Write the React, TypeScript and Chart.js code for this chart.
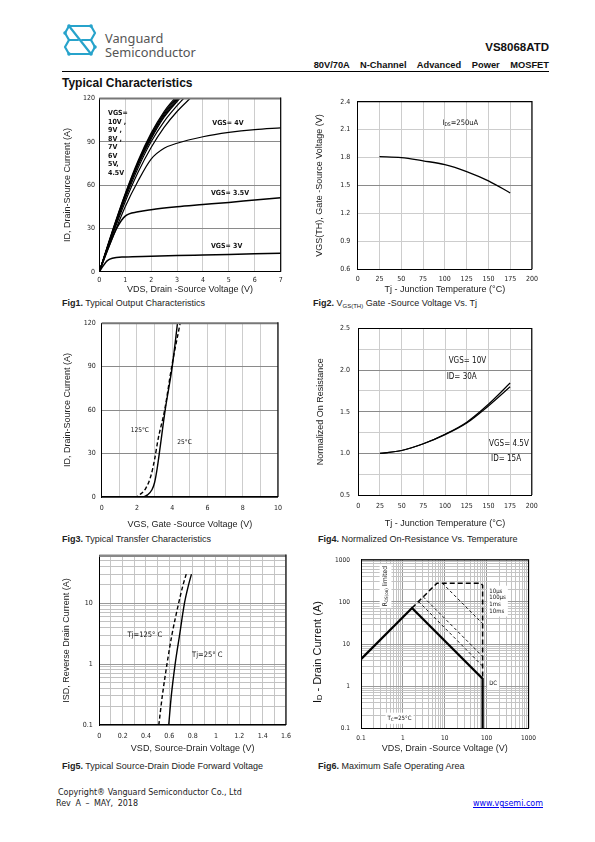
import React, { useEffect, useRef } from 'react';
import { Chart, registerables } from 'chart.js';

Chart.register(...registerables);

const SANS = "'Liberation Sans', Arial, Helvetica, sans-serif";
const NARROW = "'Liberation Sans Narrow', 'Arial Narrow', 'DejaVu Sans Condensed', sans-serif";
const VERDANA = "'DejaVu Sans', Verdana, sans-serif";

/* ================= Fig1: output characteristics ================= */
const fig1XTicks = [0, 1, 2, 3, 4, 5, 6, 7];
const fig1YTicks = [0, 30, 60, 90, 120];
const fig1Vgs10V = [[0, 0], [0.5, 28], [1, 54], [1.5, 77], [2, 96], [2.5, 111], [2.9, 120]];
const fig1Vgs9V = [[0, 0], [0.5, 27.5], [1, 53.5], [1.5, 76], [2, 95], [2.5, 110], [2.95, 120]];
const fig1Vgs8V = [[0, 0], [0.5, 27], [1, 53], [1.5, 75.5], [2, 94], [2.5, 109], [3.0, 120]];
const fig1Vgs7V = [[0, 0], [0.5, 27], [1, 52.5], [1.5, 75], [2, 93], [2.5, 108], [3.05, 120]];
const fig1Vgs6V = [[0, 0], [0.5, 26.5], [1, 52], [1.5, 74], [2, 92], [2.5, 107], [3.1, 120]];
const fig1Vgs5V = [[0, 0], [0.5, 26], [1, 50.5], [1.5, 72], [2, 90], [2.5, 104], [3, 115], [3.25, 120]];
const fig1Vgs45V = [[0, 0], [0.5, 25], [1, 48.5], [1.5, 69], [2, 86], [2.5, 100], [3, 111], [3.5, 120]];
const fig1Vgs4V = [[0, 0], [0.5, 23], [1, 45], [1.5, 63], [2, 78], [2.5, 85.5], [3, 89], [4, 93.5], [5, 96.5], [6, 98.5], [7, 99.7]];
const fig1Vgs35V = [[0, 0], [0.4, 19], [0.7, 31], [1, 38.5], [1.5, 41.5], [2, 43], [3, 45], [4, 46.5], [5, 48], [6, 49.7], [7, 51.3]];
const fig1Vgs3V = [[0, 0], [0.15, 4], [0.3, 7.5], [0.5, 9.3], [1, 10.2], [2, 10.7], [3, 11.2], [4, 11.6], [5, 12], [6, 12.4], [7, 12.8]];

/* ================= Fig2: threshold voltage ================= */
const fig2XTicks = [0, 25, 50, 75, 100, 125, 150, 175, 200];
const fig2YTicks = [0.6, 0.9, 1.2, 1.5, 1.8, 2.1, 2.4];
const fig2Tj = [25, 50, 75, 100, 125, 150, 175];
const fig2Vth = [1.81, 1.8, 1.765, 1.725, 1.65, 1.55, 1.42];

/* ================= Fig3: transfer characteristics ================= */
const fig3XTicks = [0, 1, 2, 3, 4, 5, 6, 7, 8, 9, 10];
const fig3XLabels = [0, 2, 4, 6, 8, 10];
const fig3YTicks = [0, 30, 60, 90, 120];
const fig3Tj25 = [[0, 0], [2.3, 0], [2.6, 1.5], [2.85, 5], [3.0, 10], [3.15, 20], [3.3, 33], [3.6, 60], [4.0, 90], [4.3, 120]];
const fig3Tj125 = [[0, 0], [1.9, 0], [2.2, 2], [2.5, 6], [2.8, 15], [3.0, 26], [3.2, 40], [3.57, 60], [3.97, 90], [4.45, 120]];

/* ================= Fig4: normalized on-resistance ================= */
const fig4XTicks = [0, 25, 50, 75, 100, 125, 150, 175, 200];
const fig4YTicks = [0.5, 0.75, 1, 1.25, 1.5, 1.75, 2, 2.25, 2.5];
const fig4YLabels = [0.5, 1, 1.5, 2, 2.5];
const fig4Tj = [25, 50, 75, 100, 125, 150, 175];
const fig4Vgs10V = [1.0, 1.035, 1.115, 1.23, 1.375, 1.59, 1.845];
const fig4Vgs45V = [1.0, 1.035, 1.115, 1.225, 1.365, 1.57, 1.8];

/* ================= Fig5: diode forward voltage ================= */
const fig5XTicks = [0, 0.1, 0.2, 0.3, 0.4, 0.5, 0.6, 0.7, 0.8, 0.9, 1.0, 1.1, 1.2, 1.3, 1.4, 1.5, 1.6];
const fig5XLabels = [0, 0.2, 0.4, 0.6, 0.8, 1.0, 1.2, 1.4, 1.6];
const fig5YTicks = [0.1, 0.2, 0.3, 0.4, 0.5, 0.6, 0.7, 0.8, 0.9, 1, 2, 3, 4, 5, 6, 7, 8, 9, 10, 20, 30, 40, 50, 60];
const fig5YLabels = [0.1, 1, 10];
const fig5Tj25 = [[0.595, 0.1], [0.617, 0.3], [0.65, 1], [0.688, 3], [0.73, 10], [0.765, 20], [0.79, 30]];
const fig5Tj125 = [[0.51, 0.1], [0.54, 0.3], [0.58, 1], [0.622, 3], [0.68, 10], [0.718, 20], [0.745, 30]];

/* ================= Fig6: safe operating area ================= */
const fig6Ticks = [0.1, 0.2, 0.3, 0.4, 0.5, 0.6, 0.7, 0.8, 0.9, 1, 2, 3, 4, 5, 6, 7, 8, 9, 10, 20, 30, 40, 50, 60, 70, 80, 90, 100, 200, 300, 400, 500, 600, 700, 800, 900, 1000];
const fig6Labels = [0.1, 1, 10, 100, 1000];
const fig6Dc = [[0.1, 4.4], [1.65, 72], [80, 1.5], [80, 0.1]];
const fig6Us10 = [[1.65, 72], [6.5, 280], [72, 280], [80, 250], [80, 1.5]];
const fig6Us100 = [[8.75, 280], [80, 30.6]];
const fig6Ms1 = [[3.05, 133], [80, 5.1]];
const fig6Ms10 = [[2.36, 103], [80, 3.0]];

/* ================= helpers ================= */
type Seg = { t: string; size?: number; dy?: number };
type Lbl = {
  x: number; y: number; lines: (string | Seg[])[]; size: number; lh?: number;
  bold?: boolean; family?: string; align?: 'left' | 'center'; rot?: number; bg?: string;
};

function fontStr(l: Lbl, s: Seg) {
  return `${l.bold ? 'bold ' : ''}${s.size || l.size}px ${l.family || NARROW}`;
}

function drawLabel(ctx: any, px: number, py: number, l: Lbl) {
  const lh = l.lh || l.size * 1.2;
  const lines: Seg[][] = l.lines.map((ln) => (typeof ln === 'string' ? [{ t: ln }] : ln));
  ctx.save();
  ctx.translate(px, py);
  if (l.rot) ctx.rotate(l.rot);
  ctx.textBaseline = 'middle';
  ctx.textAlign = 'left';
  const widths = lines.map((line) =>
    line.reduce((w, s) => {
      ctx.font = fontStr(l, s);
      return w + ctx.measureText(s.t).width;
    }, 0)
  );
  const maxW = Math.max(...widths);
  const x0 = l.align === 'center' ? -maxW / 2 : 0;
  if (l.bg) {
    ctx.fillStyle = l.bg;
    ctx.fillRect(x0 - 2, -lh / 2 - 2, maxW + 4, lines.length * lh + 4);
  }
  ctx.fillStyle = '#111';
  lines.forEach((line, i) => {
    let x = l.align === 'center' ? -widths[i] / 2 : 0;
    for (const s of line) {
      ctx.font = fontStr(l, s);
      ctx.fillText(s.t, x, i * lh + (s.dy || 0));
      x += ctx.measureText(s.t).width;
    }
  });
  ctx.restore();
}

type Box = { cx: number; cy: number; cw: number; ch: number; L: number; T: number; R: number; B: number };
type AxisSpec = {
  type?: string; min: number; max: number; ticks: number[]; labels: number[];
  fmt: (v: number) => string; grid: (v: number) => string; tickPad: number; tickSize?: number;
  title?: string; titlePad?: number; borderW?: number;
};
type Spec = {
  box: Box; datasets: any[]; x: AxisSpec; y: AxisSpec;
  frame: { top: string; topW: number; right: string; rightW: number };
  labels?: Lbl[]; extra?: (chart: any) => void;
};

function axis(a: AxisSpec, isX: boolean, fit: number) {
  return {
    type: a.type || 'linear',
    position: isX ? 'bottom' : 'left',
    min: a.min,
    max: a.max,
    afterBuildTicks: (s: any) => {
      s.ticks = a.ticks.map((v) => ({ value: v }));
    },
    afterFit: (s: any) => {
      if (isX) s.height = fit;
      else s.width = fit;
    },
    ticks: {
      autoSkip: false,
      maxRotation: 0,
      minRotation: 0,
      padding: a.tickPad,
      color: '#222',
      font: { family: NARROW, size: a.tickSize || 7 },
      callback: (v: any) => (a.labels.some((l) => Math.abs(l - v) < 1e-9) ? a.fmt(Number(v)) : ''),
    },
    grid: {
      drawTicks: false,
      lineWidth: 1,
      color: (c: any) => a.grid(c.tick ? c.tick.value : 0),
    },
    border: { display: true, color: '#000', width: a.borderW || 1 },
    title: a.title
      ? {
          display: true,
          text: a.title,
          color: '#222',
          font: { family: SANS, size: 9, lineHeight: 1.2 },
          padding: isX ? { top: 0, bottom: a.titlePad || 0 } : { top: a.titlePad || 0, bottom: 0 },
        }
      : { display: false },
  };
}

function buildConfig(spec: Spec) {
  const b = spec.box;
  const labels = spec.labels || [];
  const f = spec.frame;
  return {
    type: 'scatter',
    data: { datasets: spec.datasets },
    options: {
      animation: false,
      responsive: false,
      maintainAspectRatio: false,
      devicePixelRatio: 1,
      events: [],
      layout: { padding: { left: 0, top: b.T - b.cy, right: b.cx + b.cw - b.R, bottom: 0 } },
      plugins: { legend: { display: false }, tooltip: { enabled: false }, title: { display: false } },
      scales: {
        x: axis(spec.x, true, b.cy + b.ch - b.B),
        y: axis(spec.y, false, b.L - b.cx),
      },
    },
    plugins: [
      {
        id: 'labels',
        afterDatasetsDraw(chart: any) {
          const xs = chart.scales.x;
          const ys = chart.scales.y;
          for (const l of labels) drawLabel(chart.ctx, xs.getPixelForValue(l.x), ys.getPixelForValue(l.y), l);
        },
      },
      {
        id: 'frame',
        afterDraw(chart: any) {
          const { ctx, chartArea } = chart;
          const { left, right, top, bottom } = chartArea;
          ctx.save();
          ctx.strokeStyle = f.top;
          ctx.lineWidth = f.topW;
          ctx.beginPath();
          ctx.moveTo(left, top);
          ctx.lineTo(right, top);
          ctx.stroke();
          ctx.strokeStyle = f.right;
          ctx.lineWidth = f.rightW;
          ctx.beginPath();
          ctx.moveTo(right, top - f.topW / 2);
          ctx.lineTo(right, bottom);
          ctx.stroke();
          ctx.restore();
          if (spec.extra) spec.extra(chart);
        },
      },
    ],
  };
}

function curve(points: number[][], opts: any = {}) {
  return {
    data: points.map(([x, y]) => ({ x, y })),
    showLine: true,
    fill: false,
    borderColor: '#000',
    borderWidth: 1.2,
    pointRadius: 0,
    cubicInterpolationMode: 'monotone',
    ...opts,
  };
}

function Plot({ spec }: { spec: Spec }) {
  const ref = useRef<HTMLCanvasElement | null>(null);
  useEffect(() => {
    if (!ref.current) return;
    const chart = new Chart(ref.current, buildConfig(spec) as any);
    return () => chart.destroy();
  }, []);
  const b = spec.box;
  return (
    <canvas
      ref={ref}
      width={b.cw}
      height={b.ch}
      style={{ position: 'absolute', left: b.cx, top: b.cy, width: b.cw, height: b.ch, display: 'block' }}
    />
  );
}

const LIGHT = '#cdcdcd';
const DARK = '#8a8a8a';
const fmt1 = (v: number) => v.toFixed(1);
const fmtN = (v: number) => String(+v.toFixed(2));
const isDecade = (v: number) => Math.abs(Math.log10(v) - Math.round(Math.log10(v))) < 1e-9;

/* ================= chart specs ================= */
const fig1Spec: Spec = {
  box: { cx: 55, cy: 90, cw: 236, ch: 205, L: 99.3, T: 98.3, R: 280.7, B: 271.7 },
  datasets: [
    curve(fig1Vgs10V), curve(fig1Vgs9V), curve(fig1Vgs8V), curve(fig1Vgs7V), curve(fig1Vgs6V),
    curve(fig1Vgs5V), curve(fig1Vgs45V), curve(fig1Vgs4V), curve(fig1Vgs35V, { borderWidth: 1.5 }), curve(fig1Vgs3V, { borderWidth: 1.5 }),
  ],
  x: { min: 0, max: 7, ticks: fig1XTicks, labels: fig1XTicks, fmt: fmtN, grid: () => LIGHT, tickPad: 4.5, title: 'VDS, Drain -Source Voltage (V)' },
  y: { min: 0, max: 120, ticks: fig1YTicks, labels: fig1YTicks, fmt: fmtN, grid: () => DARK, tickPad: 4.3, title: 'ID, Drain-Source Current (A)', titlePad: 7.6 },
  frame: { top: '#777', topW: 2, right: '#000', rightW: 1.2 },
  labels: [
    { x: 0.336, y: 109.8, lines: ['VGS=', '10V ,', '9V ,', '8V ,', '7V', '6V', '5V,', '4.5V'], size: 7, lh: 8.5, bold: true },
    { x: 4.36, y: 102.7, lines: ['VGS= 4V'], size: 7, bold: true },
    { x: 4.31, y: 54.7, lines: ['VGS= 3.5V'], size: 7, bold: true },
    { x: 4.31, y: 17.8, lines: ['VGS= 3V'], size: 7, bold: true },
  ],
};

const fig2Spec: Spec = {
  box: { cx: 305, cy: 90, cw: 239, ch: 205, L: 357.7, T: 99, R: 533.3, B: 269.3 },
  datasets: [curve(fig2Tj.map((t, i) => [t, fig2Vth[i]]), { borderWidth: 1.3 })],
  x: { min: 0, max: 200, ticks: fig2XTicks, labels: fig2XTicks, fmt: fmtN, grid: () => LIGHT, tickPad: 6, title: 'Tj - Junction Temperature (°C)' },
  y: { min: 0.6, max: 2.4, ticks: fig2YTicks, labels: fig2YTicks, fmt: fmt1, grid: (v) => (Math.abs(v - 1.5) < 1e-6 ? DARK : LIGHT), tickPad: 7.5, title: 'VGS(TH), Gate -Source Voltage (V)', titlePad: 9.6 },
  frame: { top: '#000', topW: 1.2, right: '#000', rightW: 1.2 },
  labels: [
    { x: 97.2, y: 2.167, lines: [[{ t: 'I' }, { t: 'DS', size: 5, dy: 1.5 }, { t: '=250uA' }]], size: 7.5 },
  ],
};

const fig3Spec: Spec = {
  box: { cx: 55, cy: 313, cw: 234, ch: 217, L: 101.7, T: 322.7, R: 279, B: 497 },
  datasets: [
    curve(fig3Tj25, { borderWidth: 1.4 }),
    curve(fig3Tj125, { borderWidth: 1.4, borderDash: [4, 2.5] }),
  ],
  x: { min: 0, max: 10, ticks: fig3XTicks, labels: fig3XLabels, fmt: fmtN, grid: () => LIGHT, tickPad: 7, title: 'VGS, Gate -Source Voltage (V)', titlePad: 0.3, borderW: 1.5 },
  y: { min: 0, max: 120, ticks: fig3YTicks, labels: fig3YTicks, fmt: fmtN, grid: () => DARK, tickPad: 6, title: 'ID, Drain-Source Current (A)', titlePad: 7.6 },
  frame: { top: '#777', topW: 2, right: '#000', rightW: 1.2 },
  labels: [
    { x: 1.65, y: 46.1, lines: ['125°C'], size: 6.5 },
    { x: 4.29, y: 38.1, lines: ['25°C'], size: 6.5 },
  ],
};

const fig4Spec: Spec = {
  box: { cx: 305, cy: 316, cw: 240, ch: 214, L: 358.3, T: 326.7, R: 534.3, B: 495 },
  datasets: [
    curve(fig4Tj.map((t, i) => [t, fig4Vgs10V[i]]), { borderWidth: 1.2 }),
    curve(fig4Tj.map((t, i) => [t, fig4Vgs45V[i]]), { borderWidth: 1.2 }),
  ],
  x: { min: 0, max: 200, ticks: fig4XTicks, labels: fig4XTicks, fmt: fmtN, grid: () => LIGHT, tickPad: 7.2, title: 'Tj - Junction Temperature (°C)', titlePad: 0.6 },
  y: { min: 0.5, max: 2.5, ticks: fig4YTicks, labels: fig4YLabels, fmt: fmt1, grid: (v) => (fig4YLabels.some((l) => Math.abs(l - v) < 1e-6) ? DARK : LIGHT), tickPad: 8.3, title: 'Normalized On Resistance', titlePad: 10.6 },
  frame: { top: '#000', topW: 1.2, right: '#000', rightW: 1.2 },
  labels: [
    { x: 104.2, y: 2.116, lines: ['VGS= 10V'], size: 8 },
    { x: 101.9, y: 1.914, lines: ['ID= 30A'], size: 8 },
    { x: 150.8, y: 1.118, lines: ['VGS= 4.5V'], size: 8 },
    { x: 153, y: 0.928, lines: ['ID= 15A'], size: 8 },
  ],
};

const fig5Spec: Spec = {
  box: { cx: 55, cy: 545, cw: 243, ch: 210, L: 99.3, T: 555, R: 287.3, B: 725 },
  datasets: [
    curve(fig5Tj25, { borderWidth: 1.4 }),
    curve(fig5Tj125, { borderWidth: 1.4, borderDash: [4, 2.5] }),
  ],
  x: { min: 0, max: 1.6, ticks: fig5XTicks, labels: fig5XLabels, fmt: fmtN, grid: () => '#c6c6c6', tickPad: 7, title: 'VSD, Source-Drain Voltage (V)', titlePad: 0.6, borderW: 1.2 },
  y: { type: 'logarithmic', min: 0.1, max: 60, ticks: fig5YTicks, labels: fig5YLabels, fmt: fmtN, grid: (v) => (isDecade(v) ? '#9a9a9a' : '#c2c2c2'), tickPad: 6.6, title: 'ISD, Reverse Drain Current (A)', titlePad: 6.6 },
  frame: { top: '#888', topW: 2.5, right: '#000', rightW: 1.2 },
  labels: [
    { x: 0.242, y: 2.98, lines: ['Tj=125° C'], size: 7.5 },
    { x: 0.795, y: 1.41, lines: ['Tj=25° C'], size: 7.5 },
  ],
};

const fig6Spec: Spec = {
  box: { cx: 305, cy: 545, cw: 237, ch: 210, L: 361, T: 555, R: 531.7, B: 728.3 },
  datasets: [
    curve(fig6Dc, { borderWidth: 2.3, cubicInterpolationMode: 'default', tension: 0 }),
    curve(fig6Us10, { borderWidth: 1.5, borderDash: [5, 3], cubicInterpolationMode: 'default', tension: 0 }),
    curve(fig6Us100, { borderWidth: 0.9, borderDash: [3, 2.5], cubicInterpolationMode: 'default', tension: 0 }),
    curve(fig6Ms1, { borderWidth: 0.9, borderDash: [3, 2.5], cubicInterpolationMode: 'default', tension: 0 }),
    curve(fig6Ms10, { borderWidth: 0.9, borderDash: [3, 2.5], cubicInterpolationMode: 'default', tension: 0 }),
  ],
  x: { type: 'logarithmic', min: 0.1, max: 1000, ticks: fig6Ticks, labels: fig6Labels, fmt: fmtN, grid: (v) => (isDecade(v) ? '#9a9a9a' : '#c4c4c4'), tickPad: 6, tickSize: 6.5, title: 'VDS, Drain -Source Voltage (V)', titlePad: 0.6 },
  y: { type: 'logarithmic', min: 0.1, max: 1000, ticks: fig6Ticks, labels: fig6Labels, fmt: fmtN, grid: (v) => (isDecade(v) ? '#9a9a9a' : '#c4c4c4'), tickPad: 11, tickSize: 6.5 },
  frame: { top: '#000', topW: 1.2, right: '#000', rightW: 1.2 },
  labels: [
    { x: 0.385, y: 238, lines: [[{ t: 'R' }, { t: 'DS(on)', size: 4.5, dy: 1.5 }, { t: ' limited' }]], size: 6.5, rot: -Math.PI / 2, align: 'center', bg: '#fff' },
    { x: 115.6, y: 182, lines: ['10µs', '100µs', '1ms', '10ms'], size: 6, lh: 6.7, bg: '#fff' },
    { x: 115, y: 1.17, lines: ['DC'], size: 6, bg: '#fff' },
    { x: 0.43, y: 0.173, lines: [[{ t: 'T' }, { t: 'C', size: 4.5, dy: 1.2 }, { t: '=25°C' }]], size: 6, bg: '#fff' },
  ],
  extra: (chart: any) => {
    const { ctx, chartArea } = chart;
    const l: Lbl = {
      x: 0, y: 0, size: 11, family: SANS, align: 'center', rot: -Math.PI / 2,
      lines: [[{ t: 'I' }, { t: 'D', size: 7.5, dy: 2 }, { t: ' - Drain Current (A)' }]],
    };
    drawLabel(ctx, chartArea.left - 43, (chartArea.top + chartArea.bottom) / 2 + 8, l);
  },
};

/* ================= page ================= */
function Caption({ x, y, num, children }: { x: number; y: number; num: string; children: any }) {
  return (
    <div style={{ position: 'absolute', left: x, top: y, fontSize: 9, lineHeight: '10px', whiteSpace: 'nowrap', color: '#222', fontFamily: SANS }}>
      <b>{num}</b>
      {children}
    </div>
  );
}

function Logo() {
  const dots = [[6, 2], [28, 2], [2, 9], [32, 23], [6, 30], [28, 30]];
  return (
    <svg style={{ position: 'absolute', left: 63, top: 24 }} width={34} height={32} viewBox="0 0 34 32">
      <g fill="none" stroke="#27a3cb" strokeWidth={2.2} strokeLinejoin="round" strokeLinecap="round">
        <path d="M6 2 H28" />
        <path d="M6 2 L2 9 L6 16 H15" />
        <path d="M6 2 L28 30" />
        <path d="M19 16 H28 L32 23 L28 30 H6" />
        <path d="M28 2 L32 9 L28 16" />
        <path d="M6 30 L2 23 L6 16" />
      </g>
      {dots.map(([cx, cy], i) => (
        <circle key={i} cx={cx} cy={cy} r={1.8} fill="#27a3cb" />
      ))}
    </svg>
  );
}

export default function App() {
  return (
    <div style={{ position: 'absolute', left: 0, top: 0, width: 595, height: 842, background: '#fff', fontFamily: SANS, color: '#111' }}>
      <Logo />
      <div style={{ position: 'absolute', left: 105, top: 31, fontSize: 12.8, lineHeight: '14px', color: '#555', fontFamily: "'Noto Sans', 'Open Sans', sans-serif" }}>
        Vanguard
      </div>
      <div style={{ position: 'absolute', left: 105, top: 45, fontSize: 12.8, lineHeight: '14px', color: '#555', fontFamily: "'Noto Sans', 'Open Sans', sans-serif" }}>
        Semiconductor
      </div>
      <div style={{ position: 'absolute', right: 46, top: 41, fontSize: 11.5, fontWeight: 'bold', lineHeight: '13px' }}>VS8068ATD</div>
      <div style={{ position: 'absolute', right: 46, top: 59.5, fontSize: 9.3, fontWeight: 'bold', lineHeight: '10px', wordSpacing: 8, whiteSpace: 'nowrap' }}>
        80V/70A N-Channel Advanced Power MOSFET
      </div>
      <div style={{ position: 'absolute', left: 62, top: 70.5, width: 487, height: 1.5, background: '#000' }} />
      <div style={{ position: 'absolute', left: 62, top: 76, fontSize: 12, fontWeight: 'bold', lineHeight: '14px' }}>Typical Characteristics</div>

      <Plot spec={fig1Spec} />
      <Plot spec={fig2Spec} />
      <Plot spec={fig3Spec} />
      <Plot spec={fig4Spec} />
      <Plot spec={fig5Spec} />
      <Plot spec={fig6Spec} />

      <Caption x={62} y={298} num="Fig1.">
        {' Typical Output Characteristics'}
      </Caption>
      <Caption x={313} y={298} num="Fig2.">
        {' V'}
        <span style={{ fontSize: 6, verticalAlign: '-1.5px' }}>GS(TH)</span>
        {' Gate -Source Voltage Vs. Tj'}
      </Caption>
      <Caption x={62} y={534} num="Fig3.">
        {' Typical Transfer Characteristics'}
      </Caption>
      <Caption x={318} y={534} num="Fig4.">
        {' Normalized On-Resistance Vs. Temperature'}
      </Caption>
      <Caption x={62} y={761} num="Fig5.">
        {' Typical Source-Drain Diode Forward Voltage'}
      </Caption>
      <Caption x={318} y={761} num="Fig6.">
        {' Maximum Safe Operating Area'}
      </Caption>

      <div style={{ position: 'absolute', left: 58, top: 788, fontSize: 8, lineHeight: '10px', color: '#222', fontFamily: VERDANA, whiteSpace: 'nowrap' }}>
        Copyright® Vanguard Semiconductor Co., Ltd
      </div>
      <div style={{ position: 'absolute', left: 56, top: 799, fontSize: 8, lineHeight: '10px', color: '#222', fontFamily: VERDANA, whiteSpace: 'nowrap', wordSpacing: 2 }}>
        Rev A – MAY, 2018
      </div>
      <div style={{ position: 'absolute', right: 52, top: 799, fontSize: 8, lineHeight: '10px', color: '#0000ee', textDecoration: 'underline', fontFamily: VERDANA, whiteSpace: 'nowrap' }}>
        www.vgsemi.com
      </div>
    </div>
  );
}
